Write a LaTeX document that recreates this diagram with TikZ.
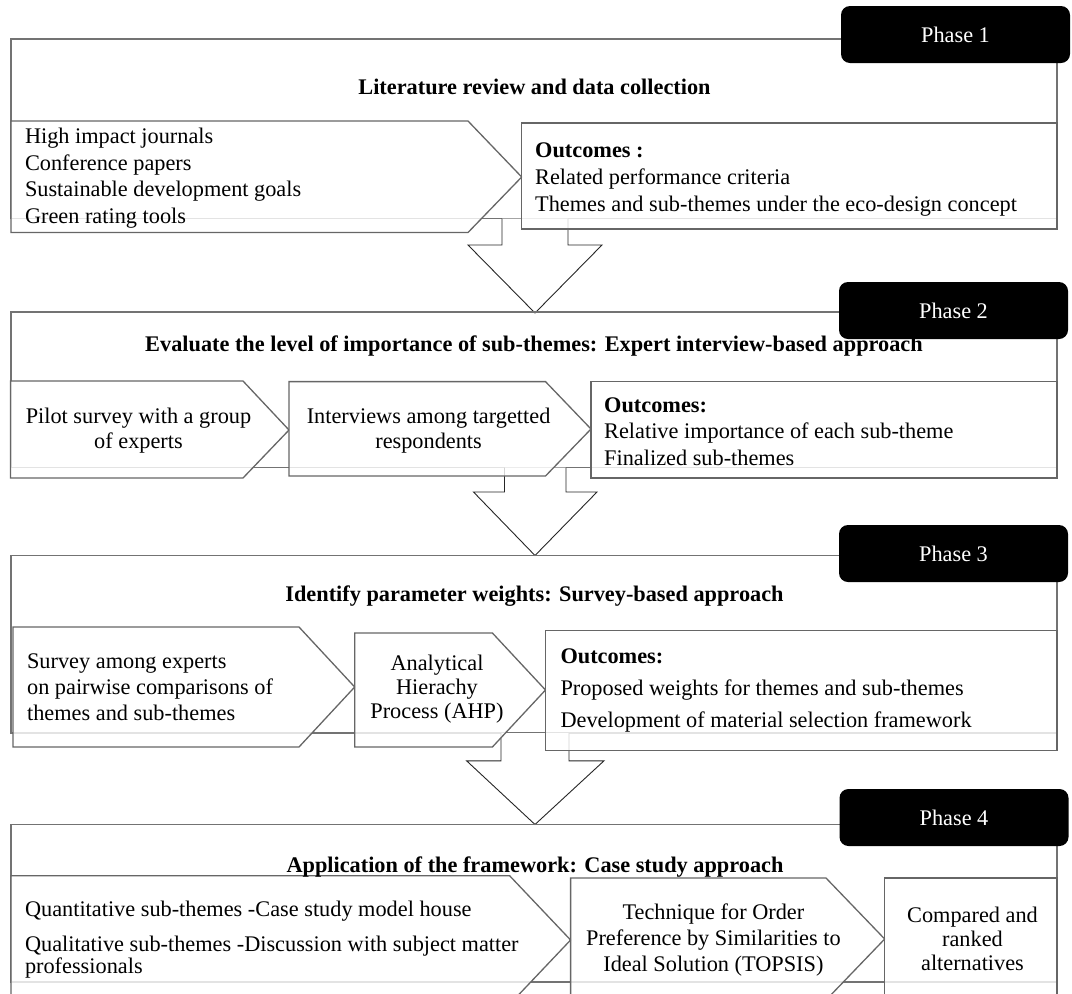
\documentclass[tikz,border=0pt]{standalone}
\usepackage{fontspec}
\setmainfont{Liberation Serif}
\newcommand\blockdown[7]{%
  \fill[white] (#2,#1) -- (#2,#4) -- (#5,#4) -- (535,#7) -- (#6,#4) -- (#3,#4) -- (#3,#1) -- cycle;
  \draw[arrowline] (#2,#1) -- (#2,#4) -- (#5,#4) -- (535,#7) -- (#6,#4) -- (#3,#4) -- (#3,#1);}
\begin{document}
\begin{tikzpicture}[x=1pt,y=-1pt,
  frame/.style={draw=black!55,line width=1.4pt},
  box/.style={draw=black!60,line width=1.3pt,fill=white,fill opacity=0.8},
  arrowline/.style={draw=black!85,line width=0.9pt,line join=miter},
  tab/.style={fill=black,rounded corners=9pt,minimum width=229pt,minimum height=57pt,inner sep=0pt,
    text=white,font=\fontsize{22.3}{26}\selectfont},
  title/.style={font=\bfseries\fontsize{22.3}{26}\selectfont,inner sep=0pt},
  txt/.style={inner sep=0pt,font=\fontsize{22.3}{26.6}\selectfont},
  txtl/.style={txt,align=left,anchor=west},
  txtc/.style={txt,align=center}
]
\useasboundingbox (0,0) rectangle (1072,994);
\clip (0,0) rectangle (1072,994);

% ---------------- Phase 1 ----------------
\draw[frame] (11,39) rectangle (1057,218.7);
\node[tab] (tab1) at (955.5,34.5) {Phase 1};
\blockdown{218.7}{502}{568}{245}{468}{602}{313}
\draw[box] (11,121) -- (468,121) -- (521.7,177) -- (468,232.5) -- (11,232.5) -- cycle;
\draw[box] (521.7,123) rectangle (1057,229);
\node[title] (t1) at (534.5,87) {Literature review and data collection};
\node[txtl] (a1) at (24.8,178) {High impact journals\\Conference papers\\Sustainable development goals\\Green rating tools};
\node[txtl,font=\fontsize{22.3}{27}\selectfont] (o1) at (535,180) {\textbf{Outcomes :}\\Related performance criteria\\Themes and sub-themes under the eco-design concept};

% ---------------- Phase 2 ----------------
\draw[frame] (11,312) rectangle (1057,467.7);
\node[tab] (tab2) at (953.5,310.5) {Phase 2};
\blockdown{467.7}{504.5}{566}{492}{473.5}{597}{555.5}
\draw[box] (10.5,381) -- (243,381) -- (289,430) -- (243,478) -- (10.5,478) -- cycle;
\draw[box] (289,381.6) -- (545.5,381.6) -- (591,429) -- (545.5,476) -- (289,476) -- cycle;
\draw[box] (591,381.6) rectangle (1057,478);
\node[title] (t2) at (534,346.5) {Evaluate the level of importance of sub-themes: Expert interview-based approach};
\node[txtc,font=\fontsize{22.3}{25.8}\selectfont] (b1) at (138.5,430.7) {Pilot survey with a group\\of experts};
\node[txtc,font=\fontsize{22.3}{25.8}\selectfont] (b2) at (428.6,430.7) {Interviews among targetted\\respondents};
\node[txtl,font=\fontsize{22.3}{26.7}\selectfont] (o2) at (604,431.5) {\textbf{Outcomes:}\\Relative importance of each sub-theme\\Finalized sub-themes};

% ---------------- Phase 3 ----------------
\draw[frame] (11,555.5) rectangle (1057,733);
\node[tab] (tab3) at (953.5,553.5) {Phase 3};
\blockdown{733}{501}{569}{760.8}{466.6}{604}{824.5}
\draw[box] (13,627) -- (299,627) -- (354.7,687) -- (299,747) -- (13,747) -- cycle;
\draw[box] (354.7,633) -- (492.4,633) -- (545.5,690) -- (492.4,747) -- (354.7,747) -- cycle;
\draw[box] (545.5,630.6) rectangle (1057,750.4);
\node[title] (t3) at (534.5,596) {Identify parameter weights: Survey-based approach};
\node[txtl,font=\fontsize{22.3}{25.8}\selectfont] (c1) at (26.9,687.4) {Survey among experts\\on pairwise comparisons of\\themes and sub-themes};
\node[txtc,font=\fontsize{22.3}{24}\selectfont] (c2) at (437,689) {Analytical\\Hierachy\\Process (AHP)};
\node[txtl,font=\fontsize{22.3}{32}\selectfont] (o3) at (560.3,690.5) {\textbf{Outcomes:}\\Proposed weights for themes and sub-themes\\Development of material selection framework};

% ---------------- Phase 4 ----------------
\draw[frame] (11,824.5) rectangle (1057,982);
\node[tab] (tab4) at (954,817.5) {Phase 4};
\draw[box] (11,875.7) -- (509.6,875.7) -- (570.6,940) -- (509.6,1004.3) -- (11,1004.3) -- cycle;
\draw[box] (570.6,878) -- (826,878) -- (884.7,939) -- (826,1000) -- (570.6,1000) -- cycle;
\draw[box] (884.7,878) rectangle (1057,1000);
\node[title] (t4) at (535,866.8) {Application of the framework: Case study approach};
\node[txtl] (d1) at (24.8,911) {Quantitative sub-themes -Case study model house};
\node[txtl,font=\fontsize{22.3}{22.4}\selectfont] (d2) at (24.8,957) {Qualitative sub-themes -Discussion with subject matter\\professionals};
\node[txtc,font=\fontsize{22.3}{25.8}\selectfont] (d3) at (713.4,940) {Technique for Order\\Preference by Similarities to\\Ideal Solution (TOPSIS)};
\node[txtc,font=\fontsize{22.3}{24}\selectfont] (d4) at (972.5,939) {Compared and\\ranked\\alternatives};
\end{tikzpicture}
\end{document}
